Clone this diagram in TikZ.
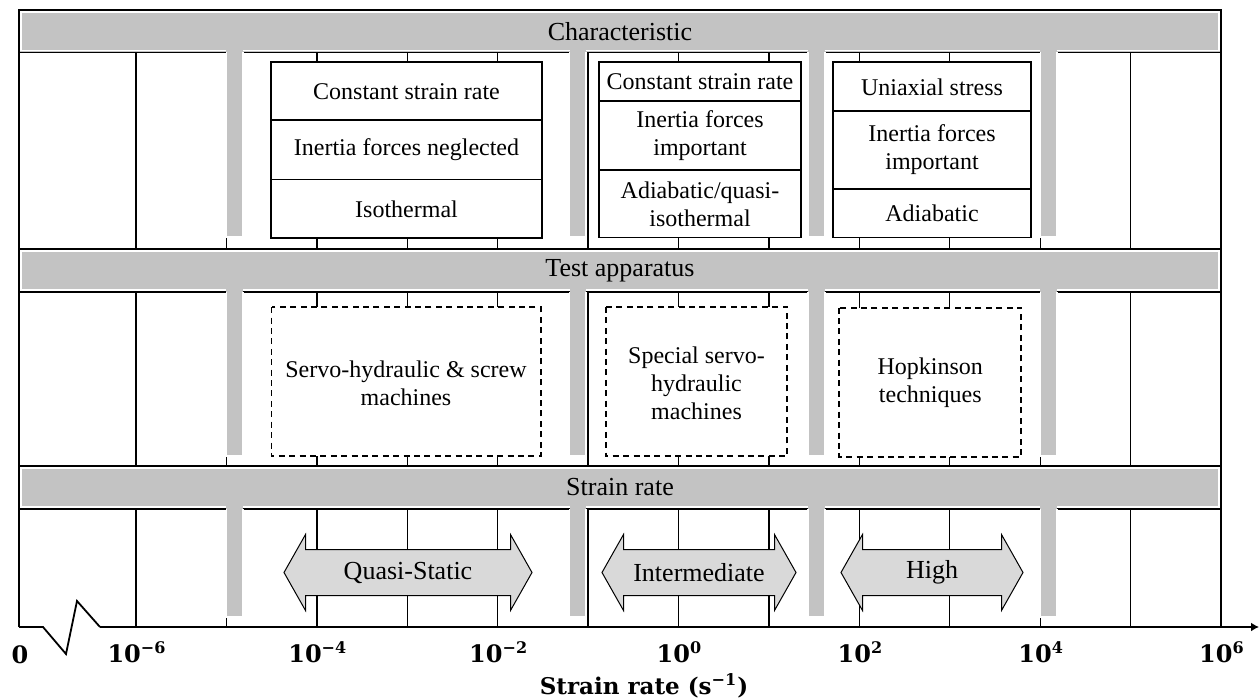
\documentclass[tikz,border=0pt]{standalone}
\usepackage[no-math]{fontspec}
\setmainfont{Liberation Serif}
\newfontfamily\axfont{DejaVu Serif}
\usetikzlibrary{arrows.meta}
\definecolor{bandgray}{HTML}{C3C3C3}
\definecolor{arrowgray}{HTML}{D9D9D9}
\newcommand\twohead[4]{%
  \filldraw[dblarrow] (#1,572.5) -- (#1+21.5,534.5) -- (#1+21.5,549.5) -- (#2-21.5,549.5) -- (#2-21.5,534.5) -- (#2,572.5) -- (#2-21.5,610.5) -- (#2-21.5,595.5) -- (#1+21.5,595.5) -- (#1+21.5,610.5) -- cycle;
  \node[labeltext] (#3) at ({(#1+#2)/2},572.5) {#4};}
\begin{document}
\begin{tikzpicture}[x=0.5pt,y=-0.5pt,
  gridline/.style={line width=0.7pt, black},
  barwhite/.style={white, line width=0.6pt},
  cellbox/.style={draw=black, fill=white, line width=0.7pt},
  dashbox/.style={draw=black, fill=white, line width=0.9pt, dash pattern=on 3pt off 2.2pt},
  celltext/.style={font=\fontsize{12}{14}\selectfont, align=center, inner sep=0pt},
  labeltext/.style={font=\fontsize{13}{15}\selectfont, inner sep=0pt},
  dblarrow/.style={fill=arrowgray, draw=black, line width=0.5pt, line join=miter},
  ticklabel/.style={font=\axfont\bfseries\fontsize{12}{15}\selectfont, inner sep=0pt},
  axtitlestyle/.style={font=\axfont\bfseries\fontsize{11.5}{14}\selectfont, inner sep=0pt}]
\useasboundingbox (0,0) rectangle (1259,700);

% vertical grid lines (decades)
\foreach \k in {0,...,11}
  \draw[gridline] ({136+90.42*\k},52.5) -- ({136+90.42*\k},627);

% gray bands
\foreach \ya/\yb in {10/52.5,249/292,466/509}{
  \fill[bandgray] (19,\ya) rectangle (1221,\yb);
  \draw[white, line width=0.6pt] (21,\ya+2) rectangle (1219,\yb-2);
}
% row borders
\foreach \y in {52.5,249,292,466,509}
  \draw[gridline] (19,\y) -- (1221,\y);

% gray bars descending from bands
\foreach \xa/\xb in {226.4/243,569.5/586,808/825,1040.2/1057}{
  \foreach \ya/\yb in {52.5/237,292/456,509/617}{
    \fill[bandgray] (\xa,\ya-3.5) rectangle (\xb,\yb);
    \draw[barwhite] (\xa,\ya) -- (\xa,\yb) -- (\xb,\yb) -- (\xb,\ya);
  }
}

% band labels
\node[labeltext] (charlab) at (620,31.5) {Characteristic};
\node[labeltext] (testlab) at (620,270.5) {Test apparatus};
\node[labeltext] (ratelab) at (620,487.5) {Strain rate};

% characteristic boxes
\draw[cellbox] (271,62) rectangle (542,238);
\draw[gridline] (271,120) -- (542,120) (271,179.5) -- (542,179.5);
\node[celltext] (a1) at (406.5,92) {Constant strain rate};
\node[celltext] (a2) at (406.5,150) {Inertia forces neglected};
\node[celltext] (a3) at (406.5,209) {Isothermal};

\draw[cellbox] (599,62) rectangle (801,237.5);
\draw[gridline] (599,101) -- (801,101) (599,170) -- (801,170);
\node[celltext] (b1) at (700,82) {Constant strain rate};
\node[celltext] (b2) at (700,136) {Inertia forces\\important};
\node[celltext] (b3) at (700,204) {Adiabatic/quasi-\\isothermal};

\draw[cellbox] (833,62) rectangle (1031,237.5);
\draw[gridline] (833,111) -- (1031,111) (833,189) -- (1031,189);
\node[celltext] (c1) at (932,87) {Uniaxial stress};
\node[celltext] (c2) at (932,150) {Inertia forces\\important};
\node[celltext] (c3) at (932,213.5) {Adiabatic};

% test apparatus boxes
\draw[dashbox] (271.5,307.3) rectangle (540.7,456);
\node[celltext] (d1) at (406,383) {Servo-hydraulic \& screw\\machines};
\draw[dashbox] (605.7,307) rectangle (787.3,456);
\node[celltext] (d2) at (696.5,383) {Special servo-\\hydraulic\\machines};
\draw[dashbox] (839.3,307.7) rectangle (1021.3,456.7);
\node[celltext] (d3) at (930.3,383) {Hopkinson\\techniques};

% strain rate arrows
\twohead{284}{532}{qs}{Quasi-Static}
\twohead{602}{796}{im}{Intermediate}
\twohead{841}{1023}{hi}{High}

% frame
\draw[gridline] (19,627) -- (19,10) -- (1221,10) -- (1221,627);

% axis with break
\coordinate (brk0) at (19,627);
\coordinate (axs) at (100,627);
\coordinate (axe) at (1259,627);
\draw[line width=0.9pt, line join=miter] (brk0) -- (43,627) -- (66,654) -- (77,601) -- (axs);
\draw[line width=0.9pt, -{Latex[length=4pt,width=4.5pt]}] (axs) -- (axe);

% tick labels
\node[ticklabel] (l0) at (20,654.5) {0};
\node[ticklabel] (lm6) at (137,652) {10\textsuperscript{−6}};
\node[ticklabel] (lm4) at (317.8,652) {10\textsuperscript{−4}};
\node[ticklabel] (lm2) at (498.7,652) {10\textsuperscript{−2}};
\node[ticklabel] (lz) at (679.5,652) {10\textsuperscript{0}};
\node[ticklabel] (lp2) at (860.4,652) {10\textsuperscript{2}};
\node[ticklabel] (lp4) at (1041.2,652) {10\textsuperscript{4}};
\node[ticklabel] (lp6) at (1222,652) {10\textsuperscript{6}};
\node[axtitlestyle] (axtitle) at (644,686) {Strain rate (s\textsuperscript{−1})};
\end{tikzpicture}
\end{document}
